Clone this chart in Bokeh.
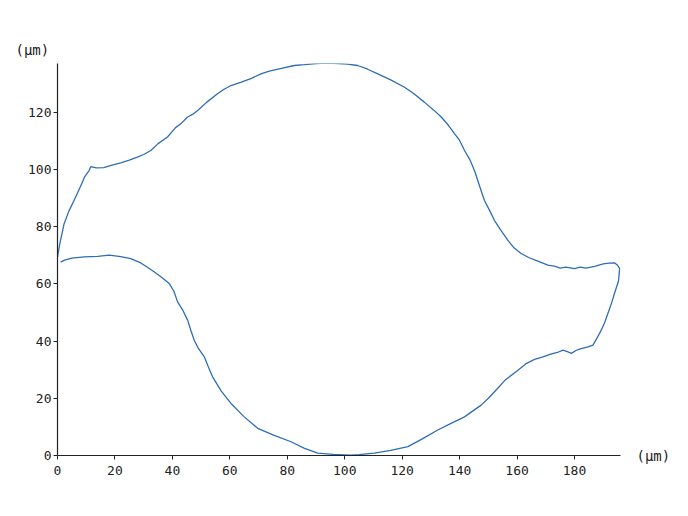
from bokeh.plotting import figure
from bokeh.models import Range1d, FixedTicker, Title, LinearAxis
from bokeh.embed import file_html
from bokeh.resources import INLINE

# contour points (μm), traced around the outline
x_um = [0, 0.8, 2.3, 4, 5.8, 8, 9.5, 11, 11.6, 13.5, 16.1, 19, 22, 25, 27.8, 30, 32.5, 35, 38.3, 41, 43,
        45.3, 47, 48.8, 52, 55.7, 58, 60.4, 64, 67.3, 70.8, 73.7, 78, 82.4, 86, 90, 94, 98, 101, 104.5,
        108, 111.5, 116, 120.8, 124, 127.7, 131, 133.6, 136, 138.2, 140, 141.7, 143.5, 145.2, 147, 148.6,
        150.5, 152.1, 154.5, 156.8, 159, 161.4, 164, 167, 170.7, 173, 175, 177, 180, 182, 184, 187, 190,
        192, 194, 195, 195.7,
        195.3, 193.9, 192.8, 191.6, 190.5, 189.3, 187.8, 186.4,
        184.7, 182, 180.5, 178.9, 177.5, 176, 174, 172, 169, 166.1, 163, 160.3, 156, 152.7, 150, 147.5,
        144.5, 141.7, 137, 132.4, 127, 122, 116, 110.3, 105, 102, 99.9, 96, 90.6, 86, 81.3, 75, 69.7,
        65, 60.4, 57, 54, 52.5, 51.1, 49, 47.6, 46.5, 45.3, 43.5, 41.8, 40.5, 38.9, 36, 32.5, 29, 25.5,
        22, 18, 14, 9.3, 5, 2.5, 1.1]
y_um = [69.4, 74, 81, 85.5, 89.2, 94, 97.5, 99.6, 101, 100.5, 100.6, 101.5, 102.3, 103.2, 104.3, 105.2,
        106.6, 109, 111.3, 114.5, 116, 118.3, 119.2, 120.6, 123.5, 126.4, 128, 129.3, 130.5, 131.7, 133.4,
        134.3, 135.3, 136.3, 136.6, 137, 137.1, 137, 136.8, 136.3, 135, 133.4, 131.3, 128.7, 126.5, 123.5,
        120.7, 118.3, 115.5, 112.5, 110.1, 106.6, 103.5, 99.5, 94, 89.2, 85.5, 82.2, 78.5, 75.2, 72.5,
        70.6, 69.2, 68, 66.5, 66.2, 65.5, 65.8, 65.3, 65.8, 65.5, 66.1, 67, 67.2, 67.3, 66.5, 65.3,
        61, 56.6, 53, 49.6, 46.5, 43.8, 41, 38.6,
        38, 37.3, 36.7, 35.7, 36.3, 36.8, 36, 35.5, 34.5, 33.6, 32, 29.8, 26.5, 22.9, 20, 17.6, 15.5,
        13.5, 11.2, 8.9, 5.8, 3.1, 1.8, 0.8, 0.3, 0.1, 0.2, 0.4, 0.8, 2.5, 4.8, 7.2, 9.5, 13.5, 18.2,
        22.5, 27.5, 31, 34.5, 37.5, 40.3, 43.5, 47.3, 51, 53.7, 57.5, 60.1, 62.5, 65, 67.3, 68.8, 69.5,
        70, 69.6, 69.4, 69, 68.3, 67.6]

x_ticks = [0, 20, 40, 60, 80, 100, 120, 140, 160, 180]
y_ticks = [0, 20, 40, 60, 80, 100, 120]
unit_label = "(μm)"

FONT = "DejaVu Sans Mono"
INK = "#222222"

p = figure(output_backend="svg", toolbar_location=None,
           frame_width=563, frame_height=392,
           min_border_left=57, min_border_right=10, min_border_top=63, min_border_bottom=53,
           x_range=Range1d(0, 196), y_range=Range1d(0, 137))
p.outline_line_color = None
p.background_fill_color = "white"
p.border_fill_color = "white"
p.xgrid.visible = False
p.ygrid.visible = False

p.line(x_um, y_um, line_color="#2f6db5", line_width=1.3)

for ax in (p.xaxis[0], p.yaxis[0]):
    ax.axis_line_color = INK
    ax.axis_line_width = 1.2
    ax.major_tick_line_color = INK
    ax.major_tick_out = 4
    ax.major_tick_in = 0
    ax.minor_tick_line_color = None
    ax.major_label_text_font = FONT
    ax.major_label_text_font_size = "13px"
    ax.major_label_text_color = INK
p.xaxis[0].ticker = FixedTicker(ticks=x_ticks)
p.yaxis[0].ticker = FixedTicker(ticks=y_ticks)
p.xaxis[0].major_label_standoff = 6
p.yaxis[0].major_label_standoff = 2

# unit label at the right end of the x axis: a bare right-hand axis with one labelled tick at y=0
unit_axis = LinearAxis(ticker=FixedTicker(ticks=[0]), major_label_overrides={0: unit_label})
unit_axis.axis_line_color = None
unit_axis.major_tick_line_color = None
unit_axis.minor_tick_line_color = None
unit_axis.major_tick_out = 0
unit_axis.major_tick_in = 0
unit_axis.major_label_standoff = 16
unit_axis.major_label_text_font = FONT
unit_axis.major_label_text_font_size = "14px"
unit_axis.major_label_text_color = INK
p.add_layout(unit_axis, "right")

# unit label above the y axis
p.add_layout(Title(text=unit_label, align="left", offset=-42, text_font=FONT,
                   text_font_size="14px", text_font_style="normal", text_color=INK,
                   standoff=12), "above")

open("out.html", "w").write(file_html(p, INLINE))
